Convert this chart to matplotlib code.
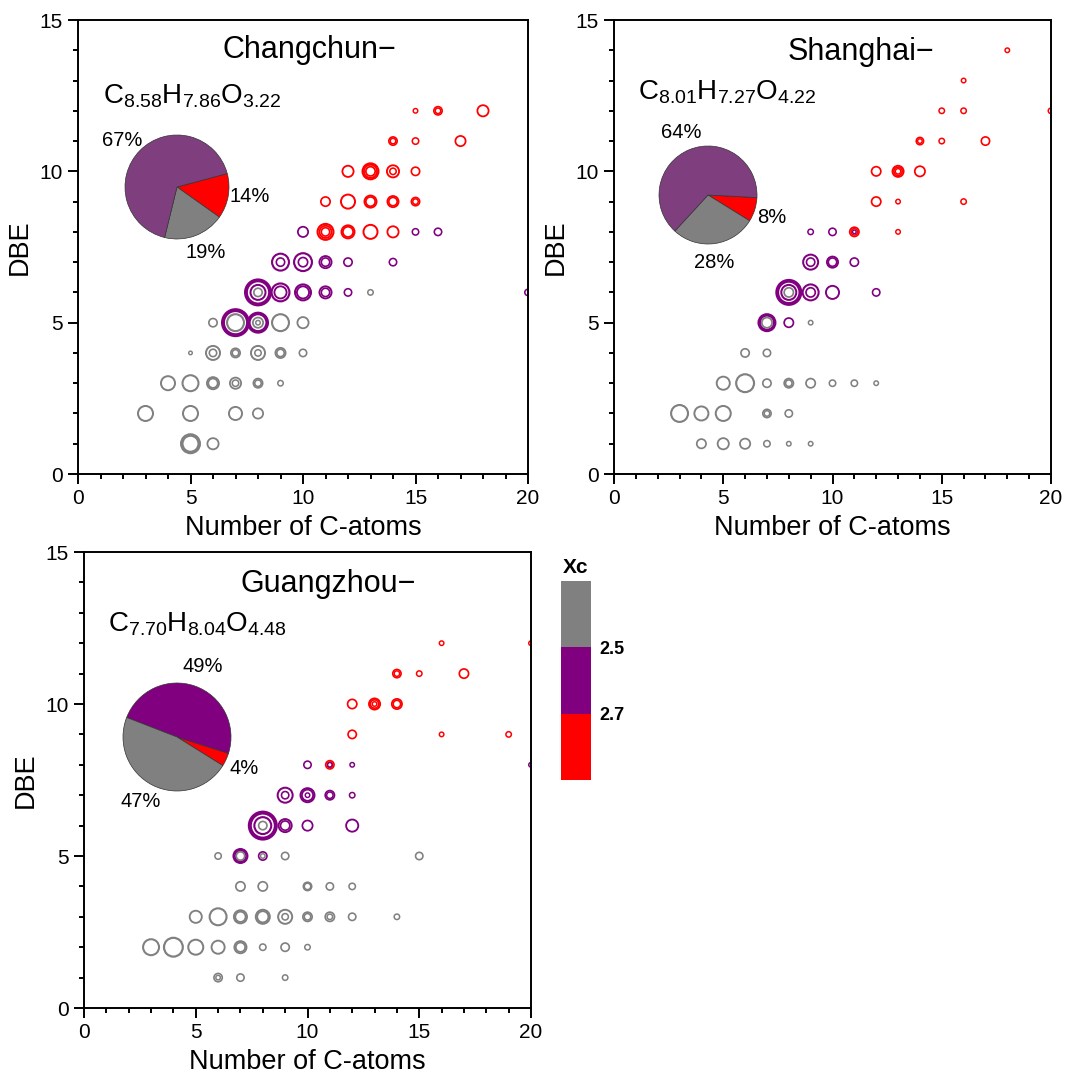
import matplotlib
matplotlib.use('Agg')
import matplotlib.pyplot as plt
from matplotlib.ticker import MultipleLocator

plt.rcParams['font.family'] = ['Liberation Sans', 'DejaVu Sans']
plt.rcParams['mathtext.fontset'] = 'custom'
plt.rcParams['mathtext.rm'] = 'Liberation Sans'

W, H = 1068, 1078

# Xc classes: 0 = below 2.5 (gray), 1 = 2.5-2.7 (purple), 2 = above 2.7 (red)
xc_colors = ['#808080', '#800080', '#ff0000']
xc_bounds = ['2.5', '2.7']

# molecules: (C atoms, DBE, relative abundance, Xc class)
changchun = [
    (5, 1, 21, 0), (5, 1, 18, 0), (6, 1, 13, 0),
    (3, 2, 17, 0), (5, 2, 17, 0), (7, 2, 15, 0), (8, 2, 12, 0),
    (4, 3, 16, 0), (5, 3, 18, 0), (6, 3, 14, 0), (6, 3, 11, 0), (7, 3, 13, 0), (7, 3, 8, 0),
    (8, 3, 11, 0), (8, 3, 8, 0), (9, 3, 7, 0),
    (5, 4, 5, 0), (6, 4, 16, 0), (6, 4, 9, 0), (7, 4, 11, 0), (7, 4, 8, 0), (8, 4, 16, 0),
    (8, 4, 8, 0), (9, 4, 12, 0), (9, 4, 9, 0), (10, 4, 9, 0),
    (6, 5, 10, 0), (7, 5, 29, 1), (7, 5, 26, 1), (7, 5, 19, 0), (8, 5, 22, 1), (8, 5, 19, 1),
    (8, 5, 12, 0), (8, 5, 6, 0), (9, 5, 19, 0), (10, 5, 13, 0),
    (8, 6, 28, 1), (8, 6, 25, 1), (8, 6, 17, 1), (8, 6, 10, 0), (9, 6, 20, 1), (9, 6, 14, 1),
    (10, 6, 18, 1), (10, 6, 14, 1), (11, 6, 14, 1), (11, 6, 10, 1), (12, 6, 9, 1), (13, 6, 7, 0),
    (20, 6, 8, 1),
    (9, 7, 19, 1), (9, 7, 10, 1), (10, 7, 20, 1), (10, 7, 11, 1), (11, 7, 14, 1), (11, 7, 10, 1),
    (12, 7, 10, 1), (14, 7, 9, 1),
    (10, 8, 12, 1), (11, 8, 18, 2), (11, 8, 14, 2), (11, 8, 10, 2), (12, 8, 15, 2), (12, 8, 12, 2),
    (13, 8, 16, 2), (14, 8, 13, 2), (15, 8, 8, 1), (16, 8, 9, 1),
    (11, 9, 11, 2), (12, 9, 16, 2), (13, 9, 14, 2), (13, 9, 11, 2), (14, 9, 13, 2), (14, 9, 10, 2),
    (15, 9, 10, 2), (15, 9, 7, 2),
    (12, 10, 13, 2), (13, 10, 18, 2), (13, 10, 15, 2), (13, 10, 11, 2), (14, 10, 14, 2),
    (14, 10, 8, 2), (15, 10, 10, 2),
    (14, 11, 10, 2), (14, 11, 7, 2), (15, 11, 8, 2), (17, 11, 12, 2),
    (15, 12, 6, 2), (16, 12, 10, 2), (16, 12, 7, 2), (18, 12, 13, 2),
]

shanghai = [
    (4, 1, 11, 0), (5, 1, 13, 0), (6, 1, 12, 0), (7, 1, 8, 0), (8, 1, 6, 0), (9, 1, 6, 0),
    (3, 2, 19, 0), (4, 2, 16, 0), (5, 2, 17, 0), (7, 2, 10, 0), (7, 2, 7, 0), (8, 2, 9, 0),
    (5, 3, 15, 0), (6, 3, 20, 0), (7, 3, 10, 0), (8, 3, 11, 0), (8, 3, 8, 0), (9, 3, 11, 0),
    (10, 3, 8, 0), (11, 3, 8, 0), (12, 3, 6, 0),
    (6, 4, 10, 0), (7, 4, 9, 0),
    (7, 5, 19, 1), (7, 5, 16, 1), (7, 5, 12, 0), (8, 5, 11, 1), (9, 5, 6, 0),
    (8, 6, 27, 1), (8, 6, 24, 1), (8, 6, 17, 1), (8, 6, 11, 0), (9, 6, 18, 1), (9, 6, 11, 1),
    (10, 6, 15, 1), (12, 6, 9, 1),
    (9, 7, 17, 1), (9, 7, 10, 1), (10, 7, 13, 1), (10, 7, 10, 1), (11, 7, 10, 1),
    (9, 8, 7, 1), (10, 8, 9, 1), (11, 8, 11, 2), (11, 8, 8, 2), (11, 8, 5, 1), (13, 8, 6, 2),
    (12, 9, 11, 2), (13, 9, 6, 2), (16, 9, 7, 2),
    (12, 10, 11, 2), (13, 10, 13, 2), (13, 10, 10, 2), (13, 10, 7, 2), (14, 10, 12, 2),
    (14, 11, 9, 2), (14, 11, 6, 2), (15, 11, 7, 2), (17, 11, 10, 2),
    (15, 12, 7, 2), (16, 12, 7, 2), (20, 12, 7, 2),
    (16, 13, 6, 2),
    (18, 14, 6, 2),
]

guangzhou = [
    (6, 1, 10, 0), (6, 1, 6, 0), (7, 1, 9, 0), (9, 1, 7, 0),
    (3, 2, 18, 0), (4, 2, 21, 0), (5, 2, 17, 0), (6, 2, 15, 0), (7, 2, 14, 0), (7, 2, 11, 0),
    (8, 2, 8, 0), (9, 2, 10, 0), (10, 2, 7, 0),
    (5, 3, 14, 0), (6, 3, 19, 0), (7, 3, 15, 0), (7, 3, 12, 0), (8, 3, 16, 0), (8, 3, 13, 0),
    (9, 3, 16, 0), (9, 3, 8, 0), (10, 3, 11, 0), (10, 3, 8, 0), (11, 3, 11, 0), (11, 3, 7, 0),
    (12, 3, 9, 0), (14, 3, 7, 0),
    (7, 4, 11, 0), (8, 4, 11, 0), (10, 4, 10, 0), (10, 4, 8, 0), (11, 4, 9, 0), (12, 4, 8, 0),
    (6, 5, 8, 0), (7, 5, 16, 1), (7, 5, 13, 1), (7, 5, 10, 0), (8, 5, 10, 1), (8, 5, 6, 0),
    (9, 5, 9, 0), (15, 5, 9, 0),
    (8, 6, 30, 1), (8, 6, 27, 1), (8, 6, 19, 1), (8, 6, 10, 0), (9, 6, 15, 1), (9, 6, 11, 1),
    (10, 6, 12, 1), (12, 6, 14, 1),
    (9, 7, 17, 1), (9, 7, 9, 1), (10, 7, 16, 1), (10, 7, 13, 1), (10, 7, 6, 1), (11, 7, 11, 1),
    (11, 7, 8, 1), (12, 7, 7, 1),
    (10, 8, 9, 1), (11, 8, 10, 2), (11, 8, 7, 2), (11, 8, 6, 1), (12, 8, 6, 1), (20, 8, 6, 1),
    (12, 9, 10, 2), (16, 9, 6, 2), (19, 9, 7, 2),
    (12, 10, 11, 2), (13, 10, 13, 2), (13, 10, 10, 2), (13, 10, 6, 2), (14, 10, 12, 2),
    (14, 10, 9, 2),
    (14, 11, 10, 2), (14, 11, 7, 2), (15, 11, 7, 2), (17, 11, 11, 2),
    (16, 12, 6, 2), (20, 12, 6, 2),
]

cities = ['Changchun', 'Shanghai', 'Guangzhou']
formulas = [r'$\mathregular{C_{8.58}H_{7.86}O_{3.22}}$',
            r'$\mathregular{C_{8.01}H_{7.27}O_{4.22}}$',
            r'$\mathregular{C_{7.70}H_{8.04}O_{4.48}}$']
# pie shares in order gray, purple, red
pie_shares = [[19, 67, 14], [28, 64, 8], [47, 49, 4]]

# ---- layout (pixel boxes: left, top, right, bottom) ----
boxes = [(78, 20, 528, 474), (614, 20, 1051, 474), (84, 552, 531, 1008)]
title_xy = [(223, 58), (788, 60), (240, 592)]
formula_xy = [(103, 103), (638, 100), (108, 632)]
pie_geom = [(177, 187, 52), (708, 195, 49), (177, 737, 54)]
pie_purple = ['#7f3f7f', '#7f3f7f', '#800080']
pie_order = [[2, 0, 1], [2, 0, 1], [2, 1, 0]]
pie_start = [15, -3, -32]
pie_ccw = [False, False, True]
pie_label_pos = [
    [(0.56, -1.25), (-1.06, 0.90), (1.40, -0.19)],
    [(0.12, -1.37), (-0.55, 1.27), (1.31, -0.45)],
    [(-0.67, -1.19), (0.47, 1.30), (1.24, -0.58)],
]


def fig_rect(l, t, r, b):
    return [l / W, 1 - b / H, (r - l) / W, (b - t) / H]


fig = plt.figure(figsize=(W / 100, H / 100), dpi=100)

for i, pts in enumerate([changchun, shanghai, guangzhou]):
    ax = fig.add_axes(fig_rect(*boxes[i]))
    c, dbe, ab, cls = zip(*pts)
    # thin rings for small peaks, heavier for big ones
    lws = [0.85 + 0.035 * a for a in ab]
    sizes = [((a - lw / 0.72) * 0.72) ** 2 for a, lw in zip(ab, lws)]
    cols = [xc_colors[k] for k in cls]
    ax.scatter(c, dbe, s=sizes, facecolors='none', edgecolors=cols, linewidths=lws)
    ax.set_xlim(0, 20)
    ax.set_ylim(0, 15)
    ax.xaxis.set_major_locator(MultipleLocator(5))
    ax.xaxis.set_minor_locator(MultipleLocator(1))
    ax.yaxis.set_major_locator(MultipleLocator(5))
    ax.yaxis.set_minor_locator(MultipleLocator(1))
    ax.tick_params(which='major', direction='out', length=7, width=1.4, labelsize=15, pad=4)
    ax.tick_params(which='minor', direction='out', length=3.5, width=1.4)
    for sp in ax.spines.values():
        sp.set_linewidth(1.4)
    ax.set_xlabel('Number of C-atoms', fontsize=19.5, labelpad=5)
    ax.set_ylabel('DBE', fontsize=19.5, labelpad=5)

    tx, ty = title_xy[i]
    fig.text(tx / W, 1 - ty / H, cities[i] + '\u2212', fontsize=22, va='baseline', ha='left')
    fx, fy = formula_xy[i]
    fig.text(fx / W, 1 - fy / H, formulas[i], fontsize=20, va='baseline', ha='left')

    # pie inset
    cx, cy, r = pie_geom[i]
    pax = fig.add_axes(fig_rect(cx - r, cy - r, cx + r, cy + r))
    pcols = [xc_colors[0], pie_purple[i], xc_colors[2]]
    order = pie_order[i]
    pax.pie([pie_shares[i][k] for k in order], colors=[pcols[k] for k in order],
            startangle=pie_start[i], counterclock=pie_ccw[i], radius=1,
            wedgeprops=dict(edgecolor='#333333', linewidth=0.5))
    pax.set_xlim(-1, 1)
    pax.set_ylim(-1, 1)
    pax.set_aspect('equal')
    pax.axis('off')
    for k in range(3):
        lx, ly = pie_label_pos[i][k]
        pax.text(lx, ly, f'{pie_shares[i][k]}%', fontsize=14.5, ha='center', va='center',
                 clip_on=False)

# Xc color key
kax = fig.add_axes(fig_rect(561, 581, 591, 780))
for k in range(3):
    kax.bar(0, 1, bottom=k, width=1, color=xc_colors[2 - k], align='edge')
kax.set_xlim(0, 1)
kax.set_ylim(0, 3)
kax.set_xticks([])
kax.yaxis.tick_right()
kax.set_yticks([2, 1])
kax.set_yticklabels(xc_bounds, fontsize=13, fontweight='bold')
kax.tick_params(axis='y', length=0, pad=6)
for sp in kax.spines.values():
    sp.set_visible(False)
kax.set_title('Xc', fontsize=15, fontweight='bold', pad=6)

fig.savefig('out.png', dpi=100)
